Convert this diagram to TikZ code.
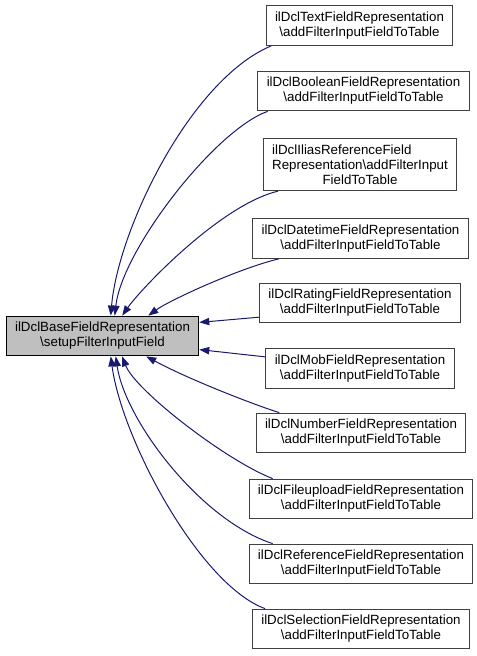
\documentclass[tikz,border=0pt]{standalone}
\usepackage{fontspec}
\setmainfont{Liberation Sans}
\usetikzlibrary{arrows.meta}
\definecolor{callblue}{HTML}{191970}
\definecolor{basegray}{HTML}{BFBFBF}
\definecolor{boxgray}{HTML}{404040}
\newlength{\iliaswidth}
\begin{document}
\settowidth{\iliaswidth}{Representation\textbackslash addFilterInput}
\begin{tikzpicture}[x=0.75pt, y=-0.75pt,
    every node/.style={font=\fontsize{10}{11.3}\selectfont, align=center, inner xsep=6.6pt, inner ysep=4.6pt, line width=0.75pt},
    basebox/.style={draw=black, fill=basegray},
    leafbox/.style={draw=boxgray, fill=white},
    callarrow/.style={draw=callblue, line width=0.75pt, {Stealth[length=7.5pt,width=5.5pt,inset=0pt]}-}]
    \useasboundingbox (0,0) rectangle (477,656);
    \path   node[basebox] (A) at (102.5, 336) {ilDclBaseFieldRepresentation\\\textbackslash setupFilterInputField}
            node[leafbox] (B) at (359.5, 25.5) {ilDclTextFieldRepresentation\\\textbackslash addFilterInputFieldToTable}
            node[leafbox] (C) at (363.5, 91) {ilDclBooleanFieldRepresentation\\\textbackslash addFilterInputFieldToTable}
            node[leafbox] (D) at (360, 164.5) {\makebox[\iliaswidth][l]{ilDclIliasReferenceField}\\Representation\textbackslash addFilterInput\\FieldToTable}
            node[leafbox] (E) at (360.5, 238.5) {ilDclDatetimeFieldRepresentation\\\textbackslash addFilterInputFieldToTable}
            node[leafbox] (F) at (360, 303) {ilDclRatingFieldRepresentation\\\textbackslash addFilterInputFieldToTable}
            node[leafbox] (G) at (360, 368.5) {ilDclMobFieldRepresentation\\\textbackslash addFilterInputFieldToTable}
            node[leafbox] (H) at (361, 433) {ilDclNumberFieldRepresentation\\\textbackslash addFilterInputFieldToTable}
            node[leafbox] (I) at (361, 499) {ilDclFileuploadFieldRepresentation\\\textbackslash addFilterInputFieldToTable}
            node[leafbox] (J) at (361, 564) {ilDclReferenceFieldRepresentation\\\textbackslash addFilterInputFieldToTable}
            node[leafbox] (K) at (361, 629) {ilDclSelectionFieldRepresentation\\\textbackslash addFilterInputFieldToTable};
    \draw[callarrow] (A.68) .. controls (118, 230) and (190, 80) .. (B.193);
    \draw[callarrow] (A.59) .. controls (122, 250) and (215, 130) .. (C.192);
    \draw[callarrow] (A.46) .. controls (140, 290) and (220, 205) .. (D.198);
    \draw[callarrow] (A.24) .. controls (170, 300) and (240, 268) .. (E.194);
    \draw[callarrow] (A.8) -- (F.188);
    \draw[callarrow] (A.352) -- (G.173);
    \draw[callarrow] (A.335) .. controls (190, 380) and (255, 405) .. (H.166);
    \draw[callarrow] (A.314) .. controls (135, 390) and (225, 460) .. (I.167);
    \draw[callarrow] (A.303) .. controls (125, 420) and (200, 520) .. (J.167);
    \draw[callarrow] (A.292) .. controls (122, 440) and (200, 585) .. (K.168);
\end{tikzpicture}
\end{document}
